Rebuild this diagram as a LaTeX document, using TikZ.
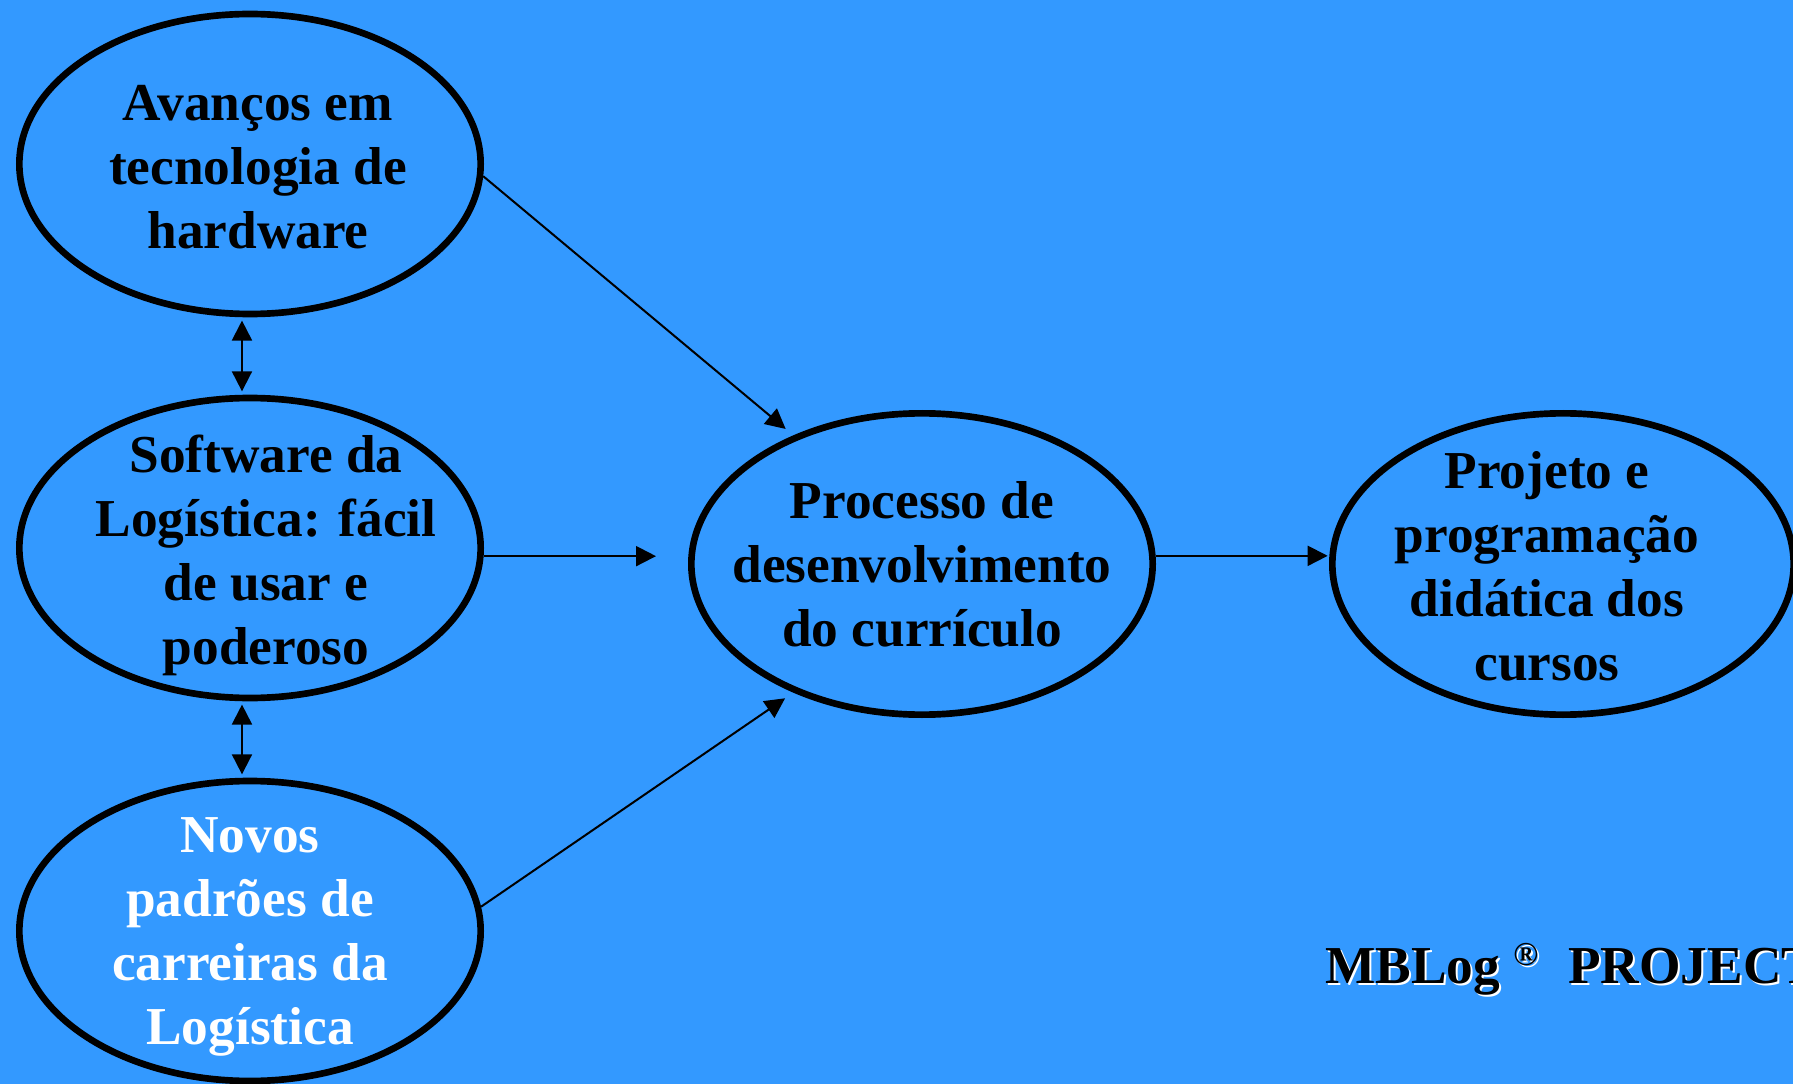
\documentclass[tikz,border=0pt]{standalone}
\usepackage{fontspec}
\setmainfont{Liberation Serif}
\usetikzlibrary{shapes.geometric,arrows.meta}
\definecolor{slideblue}{RGB}{51,153,255}
\tikzset{
  bubble/.style={draw=black, line width=5pt, ellipse, inner sep=0pt, minimum width=346pt, minimum height=225pt},
  bubbletext/.style={align=center, inner sep=0pt, font=\fontsize{40}{48}\selectfont\bfseries},
  arrowline/.style={line width=1.5pt, -{Triangle[length=15pt,width=15pt]}},
  twoway/.style={line width=1.5pt, {Triangle[length=15pt,width=15pt]}-{Triangle[length=15pt,width=15pt]}, shorten <=2.5pt, shorten >=2.5pt}
}

\begin{document}
\begin{tikzpicture}[x=0.75pt,y=0.75pt,yscale=-1,xscale=1]
%set diagram left start at 0, and has height of 1084
\useasboundingbox[fill=slideblue] (0,0) rectangle (1793,1084);

%Shape: Ellipse [hardware]
\node[bubble] (hw) at (250,164) {};
%Shape: Ellipse [software]
\node[bubble] (sw) at (250,548) {};
%Shape: Ellipse [carreiras]
\node[bubble] (car) at (250,931) {};
%Shape: Ellipse [curriculo]
\node[bubble, minimum height=226pt] (cur) at (922,564) {};
%Shape: Ellipse [projeto]
\node[bubble, minimum height=226pt] (proj) at (1563,564) {};

%Straight Lines
\draw[twoway] (hw.-93) -- (hw.-93 |- sw.north);
%Straight Lines
\draw[twoway] (sw.-93) -- (sw.-93 |- car.north);
%Straight Lines
\draw[arrowline, shorten >=7.5pt] (hw.-3) -- (cur.135);
%Straight Lines
\draw[arrowline, shorten >=24pt] (sw.-2) -- (sw.-2 -| cur.west);
%Straight Lines
\draw[arrowline, shorten >=7.5pt] (car.6) -- (cur.225);
%Straight Lines
\draw[arrowline, shorten >=1pt] (cur.2) -- (cur.2 -| proj.west);

% Text Node
\node[bubbletext] (hwtext) at (258,167) {Avanços em\\tecnologia de\\hardware};
% Text Node
\node[bubbletext] (swtext) at (266,555) {Software da\\Logística: fácil\\de usar e\\poderoso};
% Text Node
\node[bubbletext, text=white] (cartext) at (250,937) {Novos\\padrões de\\carreiras da\\Logística};
% Text Node
\node[bubbletext] (curtext) at (922,564) {Processo de\\desenvolvimento\\do currículo};
% Text Node
\node[bubbletext] (projtext) at (1547,566) {Projeto e\\programação\\didática dos\\cursos};

% Text Node (shadow, then text)
\node[bubbletext, text=white, anchor=base west] (mbshadow) at (1327,985) {MBLog \raisebox{13pt}{\fontsize{25}{25}\selectfont ®}\hspace*{22.5pt}PROJECT};
\node[bubbletext, anchor=base west] (mblog) at (1325,983) {MBLog \raisebox{13pt}{\fontsize{25}{25}\selectfont ®}\hspace*{22.5pt}PROJECT};

\end{tikzpicture}
\end{document}
